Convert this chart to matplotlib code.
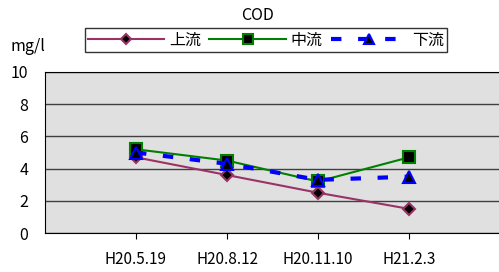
import matplotlib
matplotlib.use('Agg')
import matplotlib.pyplot as plt

plt.rcParams['font.family'] = ['Noto Sans CJK JP', 'DejaVu Sans']

dates   = ['H20.5.19', 'H20.8.12', 'H20.11.10', 'H21.2.3']
joryu   = [4.7, 3.6, 2.5, 1.5]   # 上流
churyu  = [5.2, 4.5, 3.2, 4.7]   # 中流
karyu   = [5.0, 4.3, 3.3, 3.5]   # 下流

fig = plt.figure(figsize=(4.99, 2.72), dpi=100)
ax = fig.add_axes([45/499, 1-233/272, 455/499, 161/272])
ax.set_facecolor('#e0e0e0')

x = [1, 2, 3, 4]
ax.plot(x, joryu, color='#993366', lw=1.5, marker='D', ms=6,
        mfc='black', mec='#993366', mew=1.5, label='上流')
ax.plot(x, churyu, color='#008000', lw=1.5, marker='s', ms=8,
        mfc='black', mec='#008000', mew=1.5, label='中流')
ax.plot(x, karyu, color='#0000ff', lw=3, ls=(0, (2.5, 4)), marker='^', ms=8,
        mfc='black', mec='#0000ff', mew=1.5, label='下流')

ax.set_xlim(0, 5)
ax.set_ylim(0, 10)
ax.set_yticks([0, 2, 4, 6, 8, 10])
ax.set_xticks(x)
ax.set_xticklabels(dates)
ax.tick_params(axis='y', length=0, labelsize=11.5, pad=12)
ax.tick_params(axis='x', length=4, labelsize=11, pad=9, direction='out')
ax.yaxis.grid(True, color='#404040', lw=1)
ax.set_axisbelow(True)
for s in ['top', 'left', 'bottom']:
    ax.spines[s].set_color('black')
ax.spines['right'].set_visible(False)

fig.text(258/499, 1-15/272, 'COD', ha='center', va='center', fontsize=11.5)
fig.text(10/499, 1-46/272, 'mg/l', ha='left', va='center', fontsize=11.5)

leg = fig.legend(loc='center', bbox_to_anchor=(266/499, 1-40/272), ncol=3,
                 frameon=True, fancybox=False, edgecolor='black', fontsize=11.5,
                 handlelength=4.8, columnspacing=0.5, handletextpad=0.3,
                 borderpad=0.2, markerscale=0.85)
leg.get_frame().set_linewidth(1)

fig.savefig('out.png', dpi=100)
